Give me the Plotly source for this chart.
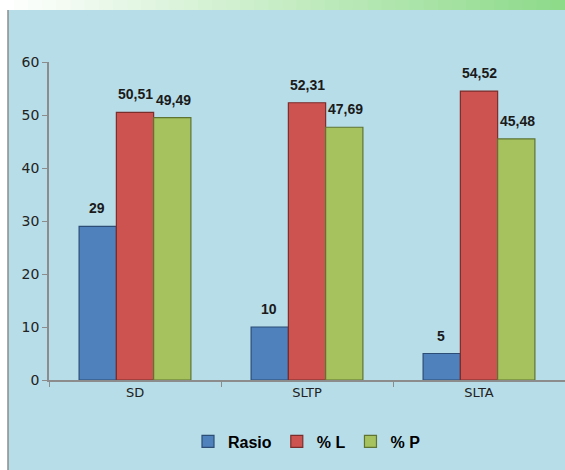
import plotly.graph_objects as go

categories = ["SD", "SLTP", "SLTA"]
rasio = [29, 10, 5]
pct_l = [50.51, 52.31, 54.52]
pct_p = [49.49, 47.69, 45.48]
series_names = ["Rasio", "% L", "% P"]
y_ticks = [0, 10, 20, 30, 40, 50, 60]

W, H = 565, 470
series = [rasio, pct_l, pct_p]
fills = ["#4F81BD", "#CD5350", "#A5C25F"]
edges = ["#2C4D75", "#7A2E2C", "#5E7430"]

def fmt(v):
    s = ("%.2f" % v).rstrip("0").rstrip(".")
    return s.replace(".", ",")

fig = go.Figure()
for name, vals, fc, ec in zip(series_names, series, fills, edges):
    fig.add_trace(go.Bar(
        x=categories, y=vals, name=name,
        marker=dict(color=fc, line=dict(color=ec, width=1.2)),
    ))

L, R, T, B = 49, 0, 62, 90
PW, PH = W - L - R, H - T - B

def px_x(x):
    return (x - L) / PW

def px_y(y):
    return (H - B - y) / PH

shapes = []
n = 40
for i in range(n):
    t = i / (n - 1)
    r = int(255 + (142 - 255) * t)
    g = int(255 + (219 - 255) * t)
    b = int(255 + (138 - 255) * t)
    shapes.append(dict(type="rect", xref="paper", yref="paper",
                       x0=px_x(W * i / n), x1=px_x(W * (i + 1) / n + 1),
                       y0=px_y(10), y1=px_y(0), layer="below",
                       line=dict(width=0), fillcolor=f"rgb({r},{g},{b})"))
shapes.append(dict(type="rect", xref="paper", yref="paper",
                   x0=px_x(8), x1=px_x(W + 1),
                   y0=px_y(H + 1), y1=px_y(10), layer="below",
                   line=dict(width=0), fillcolor="#B7DDE8"))
shapes.append(dict(type="line", xref="paper", yref="paper",
                   x0=px_x(8), x1=px_x(8),
                   y0=px_y(H + 1), y1=px_y(10), layer="below",
                   line=dict(width=1.5, color="#8C8C8C")))

annotations = []
offsets = [-38, 0, 38]
for vals, dx in zip(series, offsets):
    for c, v in zip(categories, vals):
        annotations.append(dict(x=c, y=v, xref="x", yref="y", text=fmt(v),
                                showarrow=False, yanchor="bottom", xshift=dx, yshift=8,
                                font=dict(family="Liberation Sans Narrow, Liberation Sans, Arial", size=14,
                                          color="#1A1A1A", weight="bold")))

fig.update_layout(
    width=W, height=H,
    margin=dict(l=L, r=R, t=T, b=B),
    paper_bgcolor="white",
    plot_bgcolor="#FDEADA",
    barmode="group",
    bargap=0.35,
    bargroupgap=0,
    showlegend=True,
    legend=dict(orientation="h", x=0.5, xanchor="center", y=-0.14, yanchor="top",
                font=dict(family="Liberation Sans, Arial", size=16, color="#000000", weight="bold"),
                itemwidth=30, bgcolor="rgba(0,0,0,0)"),
    shapes=shapes,
    annotations=annotations,
    xaxis=dict(showline=True, linecolor="#8C8C8C", linewidth=1.5, ticks="outside",
               tickson="boundaries", ticklen=5, tickcolor="#8C8C8C",
               tickfont=dict(family="DejaVu Sans, Liberation Sans", size=13, color="#222222"),
               showgrid=False),
    yaxis=dict(range=[0, 60], tickvals=y_ticks, showline=True, linecolor="#8C8C8C",
               linewidth=1.5, ticks="outside", ticklen=5, tickcolor="#8C8C8C",
               tickfont=dict(family="DejaVu Sans, Liberation Sans", size=14, color="#222222"),
               showgrid=False, zeroline=False),
)

fig.write_html("out.html", config={"displayModeBar": False},
               post_script="document.body.style.margin='0';document.body.style.overflow='hidden';")
